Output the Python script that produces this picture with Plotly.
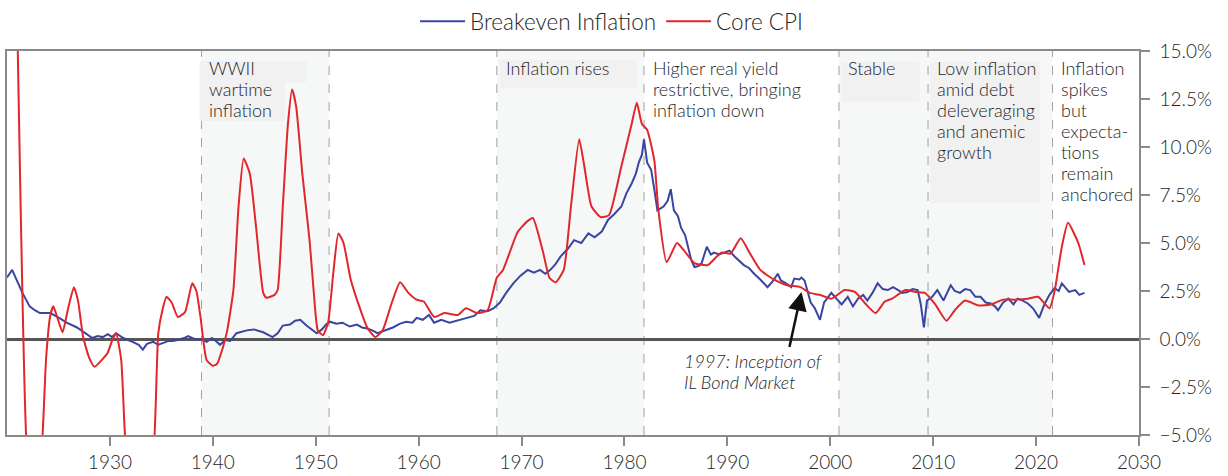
import plotly.graph_objects as go

# Breakeven inflation (%)
be_years = [1920.0, 1920.5, 1921.0, 1921.5, 1922.2, 1922.7, 1923.2, 1924.2, 1924.9, 1925.8,
            1926.8, 1927.8, 1928.3, 1928.8, 1929.3, 1929.8, 1930.2, 1930.6, 1931.3, 1932.2,
            1932.8, 1933.2, 1933.6, 1934.2, 1934.7, 1935.2, 1935.7, 1936.1, 1936.6, 1937.2,
            1937.6, 1938.2, 1938.8, 1939.4, 1939.9, 1940.3, 1940.7, 1941.2, 1941.7, 1942.3,
            1943.3, 1944.0, 1944.9, 1945.8, 1946.3, 1946.8, 1947.5, 1948.0, 1948.5, 1949.1,
            1949.6, 1950.1, 1950.6, 1951.0, 1951.4, 1952.0, 1952.6, 1953.3, 1954.0, 1954.5,
            1955.0, 1955.5, 1956.0, 1956.7, 1957.5, 1958.2, 1958.8, 1959.4, 1959.8, 1960.4,
            1961.0, 1961.5, 1962.2, 1963.0, 1963.8, 1964.7, 1965.4, 1966.0, 1966.7, 1967.3,
            1967.9, 1968.5, 1969.2, 1969.9, 1970.6, 1971.2, 1971.8, 1972.3, 1972.8, 1973.3,
            1973.8, 1974.5, 1975.1, 1975.8, 1976.5, 1977.1, 1977.8, 1978.4, 1979.0, 1979.7,
            1980.2, 1980.7, 1981.1, 1981.4, 1981.7, 1981.9, 1982.2, 1982.6, 1982.9, 1983.2,
            1983.8, 1984.2, 1984.5, 1984.8, 1985.2, 1985.5, 1985.9, 1986.2, 1986.5, 1986.8,
            1987.2, 1987.5, 1988.0, 1988.4, 1988.7, 1989.2, 1989.7, 1990.2, 1990.7, 1991.1,
            1991.6, 1992.1, 1992.6, 1993.2, 1993.9, 1994.4, 1994.9, 1995.2, 1995.7, 1996.2,
            1996.5, 1997.0, 1997.2, 1997.5, 1997.8, 1998.1, 1998.5, 1999.0, 1999.4, 2000.1,
            2000.6, 2001.1, 2001.7, 2002.2, 2002.7, 2003.2, 2003.6, 2004.1, 2004.6, 2005.1,
            2005.6, 2006.1, 2006.6, 2007.0, 2007.5, 2008.0, 2008.5, 2008.8, 2009.1, 2009.4,
            2009.9, 2010.4, 2011.0, 2011.7, 2012.1, 2012.6, 2013.1, 2013.6, 2014.1, 2014.6,
            2015.1, 2015.6, 2016.0, 2016.3, 2016.8, 2017.3, 2017.8, 2018.2, 2018.7, 2019.2,
            2019.7, 2020.3, 2020.8, 2021.3, 2021.8, 2022.2, 2022.5, 2023.2, 2023.8, 2024.2,
            2024.7]
be_vals = [3.2, 3.6, 3.0, 2.4, 1.7, 1.5, 1.35, 1.35, 1.15, 0.85,
           0.6, 0.25, 0.05, 0.15, 0.1, 0.25, 0.1, 0.3, 0.05, -0.15,
           -0.3, -0.55, -0.25, -0.15, -0.3, -0.2, -0.1, -0.1, -0.05, 0.05,
           0.15, 0.0, 0.0, -0.15, 0.05, -0.1, -0.3, -0.05, -0.1, 0.3,
           0.45, 0.5, 0.35, 0.1, 0.3, 0.7, 0.75, 0.95, 1.0, 0.7,
           0.5, 0.3, 0.5, 0.75, 0.9, 0.8, 0.85, 0.65, 0.75, 0.6,
           0.55, 0.45, 0.3, 0.45, 0.6, 0.8, 0.9, 0.85, 1.1, 1.0,
           1.25, 0.85, 1.0, 0.85, 0.95, 1.1, 1.2, 1.5, 1.45, 1.6,
           1.9, 2.4, 2.9, 3.3, 3.6, 3.45, 3.6, 3.4, 3.6, 3.9,
           4.3, 4.7, 5.15, 5.0, 5.5, 5.3, 5.6, 6.2, 6.5, 6.9,
           7.6, 8.1, 8.6, 9.2, 9.6, 10.4, 9.2, 8.8, 7.8, 6.7,
           6.9, 7.2, 7.8, 6.7, 6.4, 5.8, 5.4, 4.8, 4.1, 3.75,
           3.8, 3.95, 4.8, 4.4, 4.5, 4.4, 4.5, 4.6, 4.3, 4.1,
           3.85, 3.7, 3.4, 3.1, 2.7, 3.0, 3.4, 3.05, 2.9, 2.7,
           3.15, 3.1, 3.2, 3.05, 2.4, 1.9, 1.6, 1.0, 1.9, 2.4,
           2.1, 1.8, 2.2, 1.7, 2.1, 2.3, 2.0, 2.4, 2.9, 2.6,
           2.55, 2.7, 2.55, 2.4, 2.45, 2.6, 2.55, 1.8, 0.6, 2.0,
           2.2, 2.55, 2.0, 2.8, 2.5, 2.4, 2.6, 2.55, 2.2, 2.2,
           1.9, 1.85, 1.7, 1.5, 1.9, 2.1, 1.8, 2.1, 2.0, 1.85,
           1.6, 1.1, 1.8, 2.3, 2.65, 2.5, 2.9, 2.45, 2.55, 2.3,
           2.4]

# Core CPI (%)
cpi_years = [1921.0, 1921.9, 1922.6, 1923.4, 1923.8, 1924.2, 1924.5, 1924.9, 1925.4, 1925.9,
             1926.5, 1926.9, 1927.4, 1928.0, 1928.5, 1929.2, 1929.8, 1930.2, 1930.6, 1931.1,
             1931.5, 1932.5, 1933.5, 1934.3, 1934.7, 1935.1, 1935.5, 1936.0, 1936.6, 1937.3,
             1938.0, 1938.4, 1938.8, 1939.4, 1940.0, 1940.4, 1941.0, 1941.4, 1942.0, 1942.5,
             1943.0, 1943.6, 1944.2, 1944.9, 1945.2, 1946.0, 1946.3, 1946.8, 1947.3, 1947.7,
             1948.1, 1948.7, 1949.4, 1949.8, 1950.2, 1950.7, 1951.2, 1951.7, 1952.2, 1952.7,
             1953.4, 1954.1, 1955.0, 1955.8, 1956.5, 1957.4, 1958.2, 1959.0, 1959.8, 1960.5,
             1961.5, 1962.5, 1963.8, 1964.6, 1965.7, 1966.7, 1967.6, 1968.2, 1969.6, 1970.5,
             1971.1, 1972.1, 1972.7, 1973.3, 1974.1, 1974.8, 1975.6, 1976.1, 1976.8, 1977.7,
             1978.5, 1979.7, 1980.7, 1981.2, 1981.7, 1982.2, 1982.9, 1983.3, 1984.1, 1985.1,
             1985.8, 1986.8, 1988.1, 1989.4, 1990.3, 1991.3, 1992.2, 1993.2, 1994.5, 1995.8,
             1997.1, 1998.0, 1999.0, 2000.1, 2001.4, 2002.4, 2003.4, 2004.4, 2005.3, 2006.0,
             2007.3, 2008.3, 2009.2, 2010.2, 2011.3, 2012.1, 2013.1, 2014.4, 2015.6, 2016.8,
             2017.9, 2019.2, 2020.2, 2021.3, 2021.8, 2022.5, 2023.1, 2024.1, 2024.7]
cpi_vals = [16.5, -5.5, -9.0, -5.5, -1.0, 1.2, 1.7, 1.1, 0.35, 1.5,
            2.7, 2.0, 0.1, -1.0, -1.45, -1.1, -0.7, -0.1, 0.3, -1.1,
            -5.3, -9.5, -8.0, -5.3, 0.3, 1.5, 2.2, 1.9, 1.15, 1.4,
            2.9, 2.5, 1.15, -1.1, -1.4, -1.3, -0.4, 0.45, 2.55, 6.9,
            9.4, 8.6, 5.85, 2.4, 2.15, 2.3, 2.55, 6.9, 11.2, 13.0,
            12.1, 8.6, 5.15, 2.5, 0.45, 0.2, 0.85, 3.4, 5.5, 5.0,
            3.1, 1.9, 0.6, 0.1, 0.45, 1.9, 2.95, 2.4, 2.05, 1.95,
            1.15, 1.35, 1.25, 1.6, 1.35, 1.5, 3.2, 3.6, 5.55, 6.1,
            6.3, 4.5, 3.2, 2.95, 3.6, 6.9, 10.4, 9.0, 6.9, 6.35,
            6.45, 9.0, 11.2, 12.3, 11.2, 10.9, 9.3, 6.7, 4.0, 5.0,
            4.6, 3.95, 3.85, 4.5, 4.45, 5.25, 4.45, 3.6, 3.1, 2.8,
            2.7, 2.4, 2.3, 2.1, 2.55, 2.45, 1.85, 1.35, 1.95, 2.1,
            2.55, 2.45, 2.4, 1.8, 0.95, 1.5, 2.0, 1.75, 1.8, 2.05,
            2.05, 2.1, 2.2, 1.6, 2.5, 4.8, 6.05, 5.0, 3.85]

# regime boundaries (dashed lines)
regime_breaks = [1938.9, 1951.3, 1967.6, 1981.9, 2000.85, 2009.5, 2021.6]
shaded_periods = [(1938.9, 1951.3), (1967.6, 1981.9), (2000.85, 2021.6)]

FONT = "Lato"
TXT = "#262626"

fig = go.Figure()

fig.add_trace(go.Scatter(x=be_years, y=be_vals, mode="lines", name="Breakeven Inflation",
                         line=dict(color="#3a45a0", width=2)))
fig.add_trace(go.Scatter(x=cpi_years, y=cpi_vals, mode="lines", name="Core CPI",
                         line=dict(color="#e1262c", width=2, shape="spline", smoothing=0.5)))

shapes = []
for x0, x1 in shaded_periods:
    shapes.append(dict(type="rect", xref="x", yref="paper", x0=x0, x1=x1, y0=0, y1=1,
                       fillcolor="#f6f8f8", line_width=0, layer="below"))
# label background boxes
for x0, x1, y0, y1 in [(1938.7, 1949.1, 13.39, 14.48), (1938.7, 1947.0, 11.35, 13.39),
                       (1967.9, 1981.2, 13.07, 14.53), (2001.1, 2008.7, 12.34, 14.43),
                       (2009.7, 2020.4, 7.08, 14.43)]:
    shapes.append(dict(type="rect", xref="x", yref="y", x0=x0, x1=x1, y0=y0, y1=y1,
                       fillcolor="#f1f1f1", line_width=0, layer="below"))
for xb in regime_breaks:
    shapes.append(dict(type="line", xref="x", yref="paper", x0=xb, x1=xb, y0=0, y1=1,
                       line=dict(color="#a0a0a0", width=1, dash="dash"), layer="below"))
# white panel behind the last label, hiding the axis line like the original
shapes.append(dict(type="rect", xref="x", yref="y", x0=2021.7, x1=2030, y0=7.1, y1=14.6,
                   fillcolor="white", line_width=0, layer="above"))

fig.update_layout(shapes=shapes)

labels = [
    (1939.4, ["WWII", "wartime", "inflation"]),
    (1968.3, ["Inflation rises"]),
    (1982.6, ["Higher real yield", "restrictive, bringing", "inflation down"]),
    (2001.5, ["Stable"]),
    (2010.2, ["Low inflation", "amid debt", "deleveraging", "and anemic", "growth"]),
    (2022.2, ["Inflation", "spikes", "but", "expecta-", "tions", "remain", "anchored"]),
]
anns = []
for xl, lines in labels:
    for i, line in enumerate(lines):
        anns.append(dict(x=xl, xref="x", y=1, yref="paper", yanchor="middle", xanchor="left",
                         yshift=-17 - 21 * i, text=line, showarrow=False, align="left",
                         font=dict(family=FONT, size=18, color=TXT, weight=300)))

# 1997 arrow
anns.append(dict(x=1997.2, y=2.45, xref="x", yref="y", ax=1996.0, ay=-0.5, axref="x", ayref="y",
                 text="", showarrow=True, arrowhead=2, arrowsize=1.5, arrowwidth=2.5,
                 arrowcolor="#111111"))
for i, line in enumerate(["1997: Inception of", "IL Bond Market"]):
    anns.append(dict(x=1985.6, xref="x", y=-1.15 - 1.1 * i, yref="y", xanchor="left",
                     yanchor="middle", text="<i>" + line + "</i>", showarrow=False,
                     font=dict(family=FONT, size=18, color=TXT, weight=300)))

fig.update_layout(annotations=anns)

fig.update_layout(
    width=1228,
    height=476,
    margin=dict(l=7, r=89, t=51, b=41, autoexpand=False),
    plot_bgcolor="white",
    paper_bgcolor="white",
    font=dict(family=FONT, size=19, color=TXT, weight=300),
    showlegend=True,
    legend=dict(orientation="h", xref="container", yref="container", x=0.498, y=1.0,
                xanchor="center", yanchor="top", font=dict(size=22.5, color=TXT, weight=300),
                itemwidth=45, bgcolor="rgba(0,0,0,0)"),
    xaxis=dict(range=[1920, 2030], tickvals=[1930, 1940, 1950, 1960, 1970, 1980, 1990, 2000, 2010, 2020, 2030],
               showgrid=False, zeroline=False, showline=True, linecolor="#8a8a8a", linewidth=1.5,
               mirror=True, ticks="outside", ticklen=9, tickcolor="#8a8a8a", tickwidth=1.5,
               automargin=False, tickfont=dict(size=19, color=TXT, weight=300)),
    yaxis=dict(range=[-5, 15], side="right", dtick=2.5, tickformat=".1f", ticksuffix="%",
               showgrid=False, zeroline=True, zerolinecolor="#555555", zerolinewidth=3,
               showline=True, linecolor="#8a8a8a", linewidth=1.5, mirror=True,
               ticks="outside", ticklen=9, tickcolor="#8a8a8a", tickwidth=1.5,
               automargin=False, ticklabelstandoff=6,
               tickfont=dict(size=19, color=TXT, weight=300)),
)

fig.write_html("out.html", config={"displayModeBar": False},
               post_script="document.body.style.margin='0';")
